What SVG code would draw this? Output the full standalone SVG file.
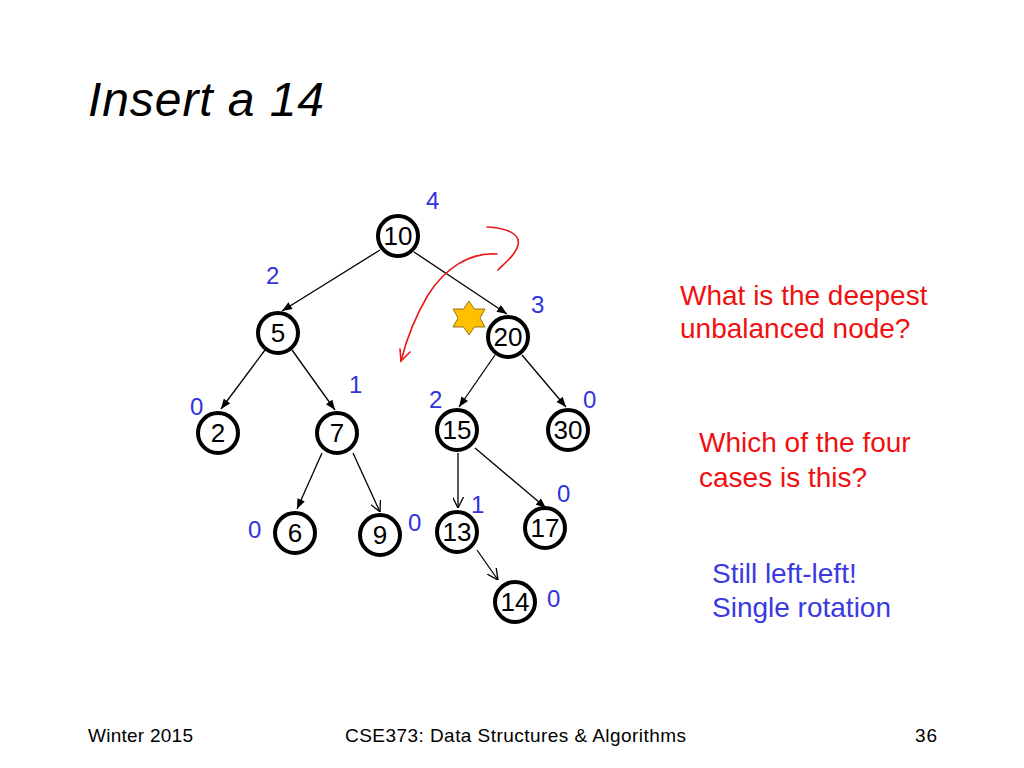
<svg xmlns="http://www.w3.org/2000/svg" width="1024" height="768" viewBox="0 0 1024 768">
<style>
text{font-family:"Liberation Sans",Arial,sans-serif}
.node circle{fill:#fff;stroke:#000;stroke-width:4}
.node text{font-size:26px;text-anchor:middle;fill:#000}
.edge{stroke:#000;stroke-width:1.3;fill:none}
.bal{font-size:24px;fill:#3232dc}
.red{font-size:28px;fill:#f01010}
.blue{font-size:28px;fill:#3a3ae0}
.foot{font-size:19px;fill:#000}
</style>
<defs>
<marker id="fa" viewBox="0 0 10 8" refX="10" refY="4" markerWidth="11" markerHeight="8" markerUnits="userSpaceOnUse" orient="auto">
<path d="M0,0 L10,4 L0,8 Z" fill="#000"/>
</marker>
<marker id="oa" viewBox="0 0 10 10" refX="10" refY="5" markerWidth="11" markerHeight="11" markerUnits="userSpaceOnUse" orient="auto">
<path d="M0,0 L10,5 L0,10" fill="none" stroke="#000" stroke-width="1.2"/>
</marker>
</defs>
<rect width="1024" height="768" fill="#fff"/>
<text x="88" y="116" font-size="48" font-style="italic" textLength="236">Insert a 14</text>
<g id="connectors">
<line class="edge" x1="380" y1="250" x2="282" y2="311" marker-end="url(#fa)"/>
<line class="edge" x1="414" y1="252" x2="507" y2="314" marker-end="url(#fa)"/>
<line class="edge" x1="265" y1="350" x2="221" y2="409" marker-end="url(#fa)"/>
<line class="edge" x1="292" y1="350" x2="335" y2="410" marker-end="url(#fa)"/>
<line class="edge" x1="495" y1="355" x2="459" y2="407" marker-end="url(#fa)"/>
<line class="edge" x1="522" y1="355" x2="566" y2="407" marker-end="url(#fa)"/>
<line class="edge" x1="322" y1="453" x2="297" y2="509" marker-end="url(#fa)"/>
<line class="edge" x1="353" y1="453" x2="380" y2="512" marker-end="url(#oa)"/>
<line class="edge" x1="458" y1="453" x2="458" y2="508" marker-end="url(#oa)"/>
<line class="edge" x1="475" y1="448" x2="546" y2="508" marker-end="url(#fa)"/>
<line class="edge" x1="477" y1="550" x2="498" y2="580" marker-end="url(#oa)"/>
</g>
<g id="red-curves" fill="none" stroke="#e81818" stroke-width="1.6" stroke-linecap="round">
<path d="M487,227 C505,228 521,233 518,245 C516,254 506,262 498,270"/>
<path d="M497,254 C470,252 445,268 428,295 C412,322 405,345 401,361"/>
<polyline points="400,349 401,361 410,352"/>
</g>
<g id="star">
<polygon points="469,301 474.5,309 485,309 480,318 485,327 474.5,327 469,335 463.5,327 453,327 458,318 453,309 463.5,309" fill="#ffc000" stroke="#7a5a00" stroke-width="0.8"/>
</g>
<g id="n10" class="node"><circle cx="398" cy="236" r="20"/><text x="398" y="245">10</text></g>
<g id="n5" class="node"><circle cx="278" cy="333" r="20"/><text x="278" y="342">5</text></g>
<g id="n20" class="node"><circle cx="508" cy="337" r="20"/><text x="508" y="346">20</text></g>
<g id="n2" class="node"><circle cx="218" cy="433" r="20"/><text x="218" y="442">2</text></g>
<g id="n7" class="node"><circle cx="337" cy="433" r="20"/><text x="337" y="442">7</text></g>
<g id="n15" class="node"><circle cx="457" cy="430" r="20"/><text x="457" y="439">15</text></g>
<g id="n30" class="node"><circle cx="568" cy="430" r="20"/><text x="568" y="439">30</text></g>
<g id="n6" class="node"><circle cx="295" cy="533" r="20"/><text x="295" y="542">6</text></g>
<g id="n9" class="node"><circle cx="380" cy="535" r="20"/><text x="380" y="544">9</text></g>
<g id="n13" class="node"><circle cx="457" cy="532" r="20"/><text x="457" y="541">13</text></g>
<g id="n17" class="node"><circle cx="545" cy="528" r="20"/><text x="545" y="537">17</text></g>
<g id="n14" class="node"><circle cx="515" cy="602" r="20"/><text x="515" y="611">14</text></g>
<g id="balances">
<text class="bal" x="426" y="209">4</text>
<text class="bal" x="266" y="284">2</text>
<text class="bal" x="531" y="313">3</text>
<text class="bal" x="349" y="393">1</text>
<text class="bal" x="190" y="415">0</text>
<text class="bal" x="429" y="408">2</text>
<text class="bal" x="583" y="408">0</text>
<text class="bal" x="471" y="513">1</text>
<text class="bal" x="557" y="502">0</text>
<text class="bal" x="248" y="538">0</text>
<text class="bal" x="408" y="531">0</text>
<text class="bal" x="547" y="607" fill="#4444c8">0</text>
</g>
<text class="red" x="680" y="305">What is the deepest</text>
<text class="red" x="680" y="338">unbalanced node?</text>
<text class="red" x="699" y="452">Which of the four</text>
<text class="red" x="699" y="487">cases is this?</text>
<text class="blue" x="712" y="583">Still left-left!</text>
<text class="blue" x="712" y="617">Single rotation</text>
<text class="foot" x="88" y="742" textLength="105">Winter 2015</text>
<text class="foot" x="345" y="742" textLength="341">CSE373: Data Structures &amp; Algorithms</text>
<text class="foot" x="915" y="742" textLength="22">36</text>
</svg>
